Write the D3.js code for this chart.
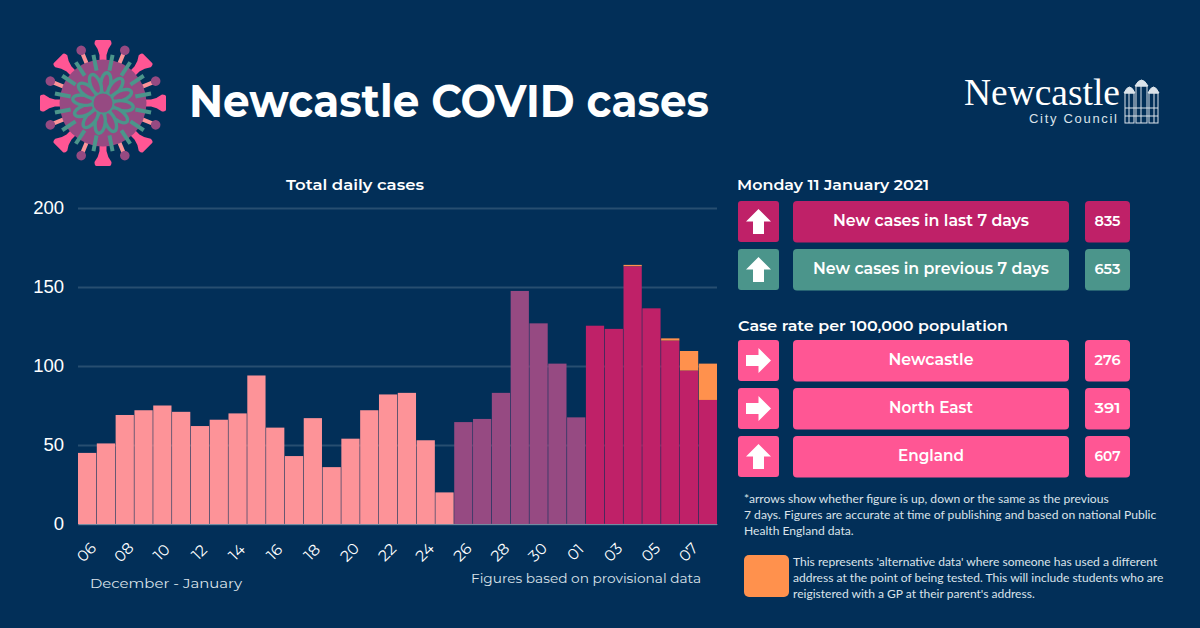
<!DOCTYPE html>
<html>
<head>
<meta charset="utf-8">
<script src="https://cdnjs.cloudflare.com/ajax/libs/d3/7.8.5/d3.min.js"></script>
<style>
  html, body { margin: 0; padding: 0; background: #022f58; }
  svg { display: block; }
  text { fill: #fff; }
</style>
</head>
<body>
<svg id="chart" width="1200" height="628"></svg>
<script>
// Daily labels, 06 December to 08 January.
var days = ["06","07","08","09","10","11","12","13","14","15","16","17","18","19","20","21","22","23","24","25","26","27","28","29","30","31","01","02","03","04","05","06","07","08"];

// Main series, split in the three colour bands of the original.
var olderCases = [45,51,69,72,75,71,62,66,70,94,61,43,67,36,54,72,82,83,53,20];
var previousCases = [64.5,66.5,83,147.5,127,101.5,67.5];
var latestCases = [125.5,123.5,163,136.5,116,97,78.5];
// Alternative data, only on the last days.
var alternativeCases = [0,0,1,0,1.5,12.5,23];

var yTicks = [0,50,100,150,200];

var panelRows = ["New cases in last 7 days","New cases in previous 7 days"];
var panelValues = ["835","653"];
var rateRows = ["Newcastle","North East","England"];
var rateValues = ["276","391","607"];
var rateArrows = ["right","right","up"];

var footnote = ["*arrows show whether figure is up, down or the same as the previous",
                "7 days. Figures are accurate at time of publishing and based on national Public",
                "Health England data."];
var altNote = ["This represents 'alternative data' where someone has used a different",
               "address at the point of being tested. This will include students who are",
               "reigistered with a GP at their parent's address."];

var PINK = "#fd9398", PURPLE = "#964a82", CRIMSON = "#bf2168",
    ORANGE = "#ff914d", TEAL = "#4b958b", HOT = "#ff5694";
var HEAD = "Montserrat, Inter, 'Open Sans', sans-serif";

var svg = d3.select("#chart");

// Small helper so the wider header font can be squeezed to the measured width.
function label(g, x, y, str, size, weight, width, anchor){
    var t = g.append("text")
        .attr("x", x).attr("y", y)
        .attr("font-family", HEAD)
        .attr("font-size", size)
        .attr("font-weight", weight)
        .attr("text-anchor", anchor || "start")
        .text(str);
    if (width) {
        t.attr("textLength", width).attr("lengthAdjust", "spacingAndGlyphs");
    }
    return t;
}

// --- Title ---
label(svg, 189, 117, "Newcastle COVID cases", 46, 700, 520);

// --- Virus icon ---
var virus = svg.append("g").attr("transform", "translate(103,103)");
d3.range(8).forEach(function(i){
    // salmon stalks and purple balls sit between the pink spikes
    var s = virus.append("g").attr("transform", "rotate(" + (22.5 + i * 45) + ")");
    s.append("line").attr("y1", -40).attr("y2", -54)
        .attr("stroke", PINK).attr("stroke-width", 4);
    s.append("circle").attr("cy", -57).attr("r", 4.8).attr("fill", PURPLE);
});
d3.range(8).forEach(function(i){
    virus.append("path")
        .attr("transform", "rotate(" + (i * 45) + ")")
        .attr("d", "M-3.5,-40 L-3.5,-48 Q-4.5,-54 -8.5,-59 Q-8.5,-63 -6.5,-63 L6.5,-63 Q8.5,-63 8.5,-59 Q4.5,-54 3.5,-48 L3.5,-40 Z")
        .attr("fill", HOT);
});
virus.append("circle").attr("r", 43.5).attr("fill", PURPLE);
d3.range(16).forEach(function(i){
    virus.append("line")
        .attr("transform", "rotate(" + (11.25 + i * 22.5) + ")")
        .attr("y1", -33).attr("y2", -49)
        .attr("stroke", TEAL).attr("stroke-width", 4);
});
d3.range(12).forEach(function(i){
    virus.append("ellipse")
        .attr("transform", "rotate(" + (i * 30 + 8) + ") translate(0,-20)")
        .attr("rx", 5).attr("ry", 10.5)
        .attr("fill", PURPLE)
        .attr("stroke", TEAL).attr("stroke-width", 3.4);
});
virus.append("circle").attr("r", 9.5).attr("fill", PURPLE);

// --- Newcastle logo ---
var logo = svg.append("g");
logo.append("text")
    .attr("x", 964).attr("y", 105)
    .attr("font-family", "'Liberation Serif', serif")
    .attr("font-size", 37)
    .attr("textLength", 156).attr("lengthAdjust", "spacingAndGlyphs")
    .text("Newcastle");
logo.append("text")
    .attr("x", 1029).attr("y", 123)
    .attr("font-family", "'Liberation Sans', sans-serif")
    .attr("font-size", 13)
    .attr("textLength", 88)
    .style("fill", "#dbe3ea")
    .text("City Council");
var castle = logo.append("g").attr("fill", "none").attr("stroke", "#dbe3ea").attr("stroke-width", 1);
[[1125,93,1134,123],[1136,86,1147,123],[1149,93,1158,123]].forEach(function(d){
    castle.append("rect").attr("x", d[0]).attr("y", d[1]).attr("width", d[2] - d[0]).attr("height", d[3] - d[1]);
    castle.append("path")
        .attr("d", "M" + (d[0] - 1) + "," + d[1] + " Q" + ((d[0] + d[2]) / 2) + "," + (d[1] - 12) + " " + (d[2] + 1) + "," + d[1] + " Z")
        .attr("fill", "#dbe3ea");
});
castle.append("path").attr("d", "M1125,108 H1158 M1125,116 H1158 M1141,86 V123 M1129,93 V123 M1154,93 V123");

// --- Bar chart ---
var x = d3.scaleBand().domain(d3.range(days.length)).range([78, 717]).paddingInner(0.03).paddingOuter(0);
var y = d3.scaleLinear().domain([0, 200]).range([524, 208]);

label(svg, 286, 190, "Total daily cases", 14.5, 600, 138);

var yAxis = svg.append("g").attr("transform", "translate(78,0)")
    .call(d3.axisLeft(y).tickValues(yTicks).tickSize(-639).tickPadding(14));
yAxis.select(".domain").remove();
yAxis.selectAll("line").attr("stroke", "#fff").attr("stroke-opacity", 0.15).attr("stroke-width", 2);
yAxis.selectAll("text")
    .attr("font-family", "'Liberation Sans', sans-serif")
    .attr("font-size", 18.5)
    .style("fill", "#fff");

var rows = [];
olderCases.forEach(function(v){ rows.push({v: v, alt: 0, c: PINK}); });
previousCases.forEach(function(v){ rows.push({v: v, alt: 0, c: PURPLE}); });
latestCases.forEach(function(v, i){ rows.push({v: v, alt: alternativeCases[i], c: CRIMSON}); });

svg.append("g").selectAll("rect.alt")
    .data(rows.filter(function(d){ return d.alt > 0; }))
    .enter().append("rect")
    .attr("class", "alt")
    .attr("x", function(d){ return x(rows.indexOf(d)); })
    .attr("width", x.bandwidth())
    .attr("y", function(d){ return y(d.v + d.alt); })
    .attr("height", function(d){ return y(d.v) - y(d.v + d.alt); })
    .attr("fill", ORANGE);

svg.append("g").selectAll("rect.bar")
    .data(rows)
    .enter().append("rect")
    .attr("class", "bar")
    .attr("x", function(d, i){ return x(i); })
    .attr("width", x.bandwidth())
    .attr("y", function(d){ return y(d.v); })
    .attr("height", function(d){ return y(0) - y(d.v); })
    .attr("fill", function(d){ return d.c; });

// every second day gets a rotated label
var xAxis = svg.append("g").attr("transform", "translate(0,524)")
    .call(d3.axisBottom(x)
        .tickValues(d3.range(0, days.length, 2))
        .tickFormat(function(i){ return days[i]; })
        .tickSize(0));
xAxis.select(".domain").attr("stroke", "#fff").attr("stroke-opacity", 0.35).attr("stroke-width", 1);
xAxis.selectAll("text")
    .attr("font-family", HEAD)
    .attr("font-size", 15.5)
    .attr("text-anchor", "middle")
    .attr("dy", 0).attr("y", 0)
    .attr("transform", "translate(3,32) rotate(-45)")
    .style("fill", "#fff");

label(svg, 90, 588, "December - January", 13.5, 400, 152).style("fill", "#dbe3ea");
label(svg, 471, 583, "Figures based on provisional data", 13.5, 400, 230).style("fill", "#dbe3ea");

// --- Right hand panel ---
function arrow(g, cx, cy, dir){
    g.append("path")
        .attr("transform", "translate(" + cx + "," + cy + ") rotate(" + (dir === "right" ? 90 : 0) + ")")
        .attr("d", "M0,-12.5 L12.5,0 L5.5,0 L5.5,12.5 L-5.5,12.5 L-5.5,0 L-12.5,0 Z")
        .attr("fill", "#fff");
}

function panelRow(top, text, value, dir, color, textWidth, valueWidth){
    var g = svg.append("g");
    g.append("rect").attr("x", 738).attr("y", top).attr("width", 41).attr("height", 41).attr("rx", 3).attr("fill", color);
    g.append("rect").attr("x", 793).attr("y", top).attr("width", 276).attr("height", 41.5).attr("rx", 4).attr("fill", color);
    g.append("rect").attr("x", 1085).attr("y", top).attr("width", 45).attr("height", 41.5).attr("rx", 4).attr("fill", color);
    arrow(g, 758.5, top + 20.5, dir);
    label(g, 931, top + 25, text, 15.5, 600, textWidth, "middle");
    label(g, 1107.5, top + 25, value, 14.5, 600, valueWidth, "middle");
}

label(svg, 737, 190, "Monday 11 January 2021", 14.5, 600, 192);
panelRow(201, panelRows[0], panelValues[0], "up", CRIMSON, 196, 26);
panelRow(249, panelRows[1], panelValues[1], "up", TEAL, 236, 26);

label(svg, 738, 331, "Case rate per 100,000 population", 14.5, 600, 270);
var rateWidths = [85, 84, 66];
rateRows.forEach(function(r, i){
    panelRow(340 + i * 48, r, rateValues[i], rateArrows[i], HOT, rateWidths[i], 26);
});

// --- Notes ---
function note(lines, lx, top, size){
    svg.append("g").selectAll("text")
        .data(lines)
        .enter().append("text")
        .attr("x", lx)
        .attr("y", function(d, i){ return top + i * 16; })
        .attr("font-family", "Lato, sans-serif")
        .attr("font-size", size)
        .style("fill", "#dbe3ea")
        .text(function(d){ return d; });
}
note(footnote, 744, 503, 12.1);
svg.append("rect").attr("x", 744).attr("y", 555).attr("width", 45).attr("height", 42).attr("rx", 5).attr("fill", ORANGE);
note(altNote, 793, 566, 12.05);
</script>
</body>
</html>
